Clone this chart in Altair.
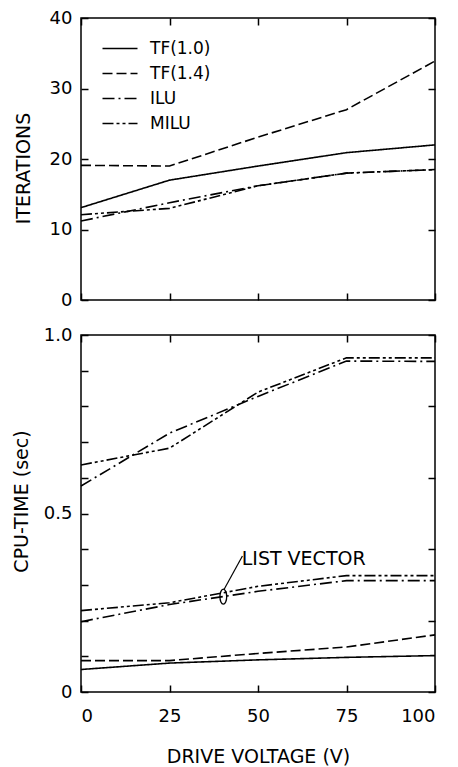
import altair as alt
import pandas as pd

FONT = "DejaVu Sans"

# ---- data ----
x_volt = [0, 25, 50, 75, 100]
methods = ["TF(1.0)", "TF(1.4)", "ILU", "MILU"]

iter_tf10 = [13.1, 17.0, 19.0, 20.9, 22.0]
iter_tf14 = [19.1, 19.0, 23.1, 27.0, 33.9]
iter_ilu = [11.2, 13.8, 16.2, 18.0, 18.5]
iter_milu = [12.1, 13.0, 16.2, 18.0, 18.5]

cpu_tf10 = [0.063, 0.081, 0.090, 0.097, 0.102]
cpu_tf14 = [0.088, 0.088, 0.108, 0.126, 0.160]
cpu_ilu = [0.577, 0.725, 0.828, 0.927, 0.926]
cpu_milu = [0.636, 0.683, 0.840, 0.936, 0.936]
cpu_ilu_lv = [0.197, 0.245, 0.282, 0.312, 0.312]
cpu_milu_lv = [0.228, 0.250, 0.296, 0.326, 0.326]

x_ticks = [0, 25, 50, 75, 100]
iter_ticks = [0, 10, 20, 30, 40]
cpu_ticks = [0, 0.1, 0.2, 0.3, 0.4, 0.5, 0.6, 0.7, 0.8, 0.9, 1.0]

note_text = ["LIST VECTOR"]
note_x = [45.4]
note_y = [0.372]
leader_x = [40.4]
leader_y = [0.287]
leader_x2 = [45.6]
leader_y2 = [0.381]
ellipse_x = [40.2]
ellipse_y = [0.267]

dash_range = [[1, 0], [10, 4], [12, 4, 2, 4], [11, 3, 3, 3, 3, 3]]


def long_df(series):
    rows = []
    for grp, method, vals in series:
        for xv, yv in zip(x_volt, vals):
            rows.append({"x": xv, "y": yv, "method": method, "grp": grp})
    return pd.DataFrame(rows)


top_df = long_df([
    ("tf10", "TF(1.0)", iter_tf10),
    ("tf14", "TF(1.4)", iter_tf14),
    ("ilu", "ILU", iter_ilu),
    ("milu", "MILU", iter_milu),
])
bot_df = long_df([
    ("tf10", "TF(1.0)", cpu_tf10),
    ("tf14", "TF(1.4)", cpu_tf14),
    ("ilu", "ILU", cpu_ilu),
    ("milu", "MILU", cpu_milu),
    ("ilu_lv", "ILU", cpu_ilu_lv),
    ("milu_lv", "MILU", cpu_milu_lv),
])
note_df = pd.DataFrame({"x": note_x, "y": note_y, "text": note_text})
leader_df = pd.DataFrame({"x": leader_x, "y": leader_y, "x2": leader_x2, "y2": leader_y2})
ellipse_df = pd.DataFrame({"x": ellipse_x, "y": ellipse_y})

W = 354
TICK = 7
XS = alt.Scale(domain=[0, 100], nice=False, zero=False)


def tick_axis(orient, values, **kw):
    return alt.Axis(orient=orient, values=values, tickSize=TICK, offset=-TICK,
                    tickWidth=1.5, domain=False, grid=False, **kw)


def panel(df, ydom, yticks, ytitle, title_y, title_pad, label_expr, bottom_labels,
          legend, height, extra_layers=()):
    ys = alt.Scale(domain=ydom, nice=False, zero=False)
    if bottom_labels:
        xax = tick_axis("bottom", x_ticks, labelPadding=15, labelFontSize=18,
                        title="DRIVE VOLTAGE (V)", titleFontSize=19, titlePadding=22)
    else:
        xax = tick_axis("bottom", x_ticks, labels=False, title=None)
    yax_kw = dict(labelPadding=9, labelFontSize=18, title=ytitle, titleFontSize=19,
                  titlePadding=title_pad, titleY=title_y, labelOverlap=False)
    if label_expr:
        yax_kw["labelExpr"] = label_expr
    yax = tick_axis("left", yticks, **yax_kw)

    lines = alt.Chart(df).mark_line(color="black", strokeWidth=1.6, strokeCap="butt").encode(
        x=alt.X("x:Q", scale=XS, axis=xax),
        y=alt.Y("y:Q", scale=ys, axis=yax),
        strokeDash=alt.StrokeDash("method:N", scale=alt.Scale(domain=methods, range=dash_range),
                                  legend=legend),
        detail="grp:N",
    )

    # second layer: carries the mirrored top/right tick axes (and annotations)
    ghost = alt.Chart(df).mark_line(opacity=0).encode(
        x=alt.X("x:Q", scale=XS, axis=tick_axis("top", x_ticks, labels=False, title=None)),
        y=alt.Y("y:Q", scale=ys, axis=tick_axis("right", yticks, labels=False, title=None)),
        detail="grp:N",
    )
    second = alt.layer(ghost, *extra_layers) if extra_layers else ghost
    return alt.layer(lines, second).resolve_scale(x="independent", y="independent").properties(
        width=W, height=height)


legend = alt.Legend(orient="none", legendX=30.5, legendY=22, title=None,
                    symbolType="M-3.5,0H3.5", symbolSize=100, symbolStrokeWidth=1.5,
                    symbolStrokeColor="black", labelFontSize=17, labelFont=FONT,
                    labelColor="black", rowPadding=7, padding=0, labelOffset=21.5)

top = panel(top_df, [0, 40], iter_ticks, "ITERATIONS", 150, 16, None, False, legend, 282)

note = alt.Chart(note_df).mark_text(align="left", baseline="middle", font=FONT, fontSize=19,
                                    color="black").encode(x="x:Q", y="y:Q", text="text:N")
leader = alt.Chart(leader_df).mark_rule(color="black", strokeWidth=1.2).encode(
    x="x:Q", y="y:Q", x2="x2:Q", y2="y2:Q")
ellipse = alt.Chart(ellipse_df).mark_point(
    shape="M0,-1A0.45,1 0 1,1 0,1A0.45,1 0 1,1 0,-1Z", size=225, filled=False,
    color="black", strokeWidth=1.3, opacity=1).encode(x="x:Q", y="y:Q")

label_expr = ("round(datum.value * 10) == 0 ? '0' : round(datum.value * 10) == 5 ? '0.5' : "
              "round(datum.value * 10) == 10 ? '1.0' : ' '")
bottom = panel(bot_df, [0, 1], cpu_ticks, "CPU-TIME (sec)", 166, 12, label_expr, True, None,
               357, extra_layers=(leader, note, ellipse))

chart = alt.vconcat(top, bottom, spacing=35, bounds="flush").resolve_scale(
    strokeDash="independent"
).properties(
    padding={"top": 0, "left": 3, "right": 5, "bottom": 0},
    background="white",
).configure_view(stroke="black", strokeWidth=1.5).configure_axis(
    labelFont=FONT, titleFont=FONT, labelColor="black", titleColor="black",
    tickColor="black", titleFontWeight="normal", labelOverlap=False,
)

chart.save("out.html", embed_options={"renderer": "svg", "actions": False})
